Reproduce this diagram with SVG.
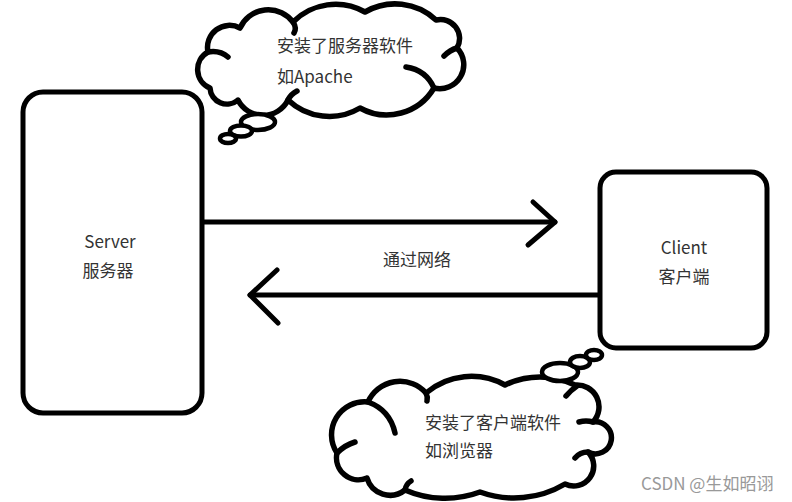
<svg xmlns="http://www.w3.org/2000/svg" width="792" height="502" viewBox="0 0 792 502">
<style>
.box{fill:#fff;stroke:#000;stroke-width:5}
.cloud{fill:#fff;stroke:#000;stroke-width:5.5;stroke-linejoin:round}
.hook{fill:none;stroke:#000;stroke-width:5.5;stroke-linecap:round}
.bub{fill:#fff;stroke:#000;stroke-width:4.5}
.ln{fill:none;stroke:#000;stroke-width:5;stroke-linecap:round;stroke-linejoin:round}
.t{font-family:"Noto Sans CJK SC","Noto Sans",sans-serif;font-size:17px;fill:#333}
.wm{font-family:"Noto Sans CJK SC","Noto Sans",sans-serif;font-size:17px;fill:#999}
</style>
<rect width="792" height="502" fill="#fff"/>
<g id="connectors">
  <path class="ln" d="M203,222 H555"/>
  <path class="ln" d="M533,202 L555,222 L528,245"/>
  <path class="ln" d="M600,295 H250"/>
  <path class="ln" d="M277,270 L250,295 L278,323"/>
  <text class="t" x="417" y="266" text-anchor="middle">通过网络</text>
</g>
<g id="server">
  <rect class="box" x="23" y="92" width="179" height="321" rx="20"/>
  <text class="t" x="110" y="248" text-anchor="middle">Server</text>
  <text class="t" x="108" y="277" text-anchor="middle">服务器</text>
</g>
<g id="client">
  <rect class="box" x="600" y="172" width="167" height="176" rx="16"/>
  <text class="t" x="684" y="254" text-anchor="middle">Client</text>
  <text class="t" x="684" y="283" text-anchor="middle">客户端</text>
</g>
<g id="cloud-server">
  <path class="cloud" d="M210,88 A20,20 0 0 1 208,52 A22,22 0 0 1 240,28 A31,31 0 0 1 293,22 A60,60 0 0 1 365,12 A60,60 0 0 1 436,20 A19,19 0 0 1 457,48 A24,24 0 0 1 434,88 A55,55 0 0 1 360,108 A60,60 0 0 1 288,100 A28,28 0 0 1 238,100 A17,17 0 0 1 210,88 Z"/>
  <path class="hook" d="M208,52 Q220,50 228,57"/>
  <path class="hook" d="M293,22 Q297,28 294,33"/>
  <path class="hook" d="M457,48 Q450,50 444,56"/>
  <path class="hook" d="M434,88 Q426,70 406,67"/>
  <path class="hook" d="M288,100 Q291,94 297,91"/>
  <ellipse class="bub" cx="258" cy="122" rx="17" ry="8"/>
  <ellipse class="bub" cx="241" cy="131" rx="11" ry="5.5"/>
  <ellipse class="bub" cx="228" cy="138.5" rx="8" ry="4.5"/>
  <text class="t" x="277" y="52">安装了服务器软件</text>
  <text class="t" x="277" y="83">如Apache</text>
</g>
<g id="cloud-client">
  <path class="cloud" d="M337,453 A33,33 0 0 1 368,402 A35,35 0 0 1 426,393 A70,70 0 0 1 505,385 A80,80 0 0 1 575,385 A22,22 0 0 1 593,422 A16,16 0 1 1 588,452 A20,20 0 0 1 565,484 A100,100 0 0 1 480,492 A100,100 0 0 1 405,490 A24,24 0 0 1 367,478 A22,22 0 0 1 337,453 Z"/>
  <path class="hook" d="M337,453 Q345,445 355,442"/>
  <path class="hook" d="M368,402 Q390,410 395,433"/>
  <path class="hook" d="M426,393 Q428,397 427,401"/>
  <path class="hook" d="M577,386 Q571,390 566,396"/>
  <path class="hook" d="M593,422 Q586,420 579,422"/>
  <path class="hook" d="M588,452 Q580,452 575,458"/>
  <path class="hook" d="M405,490 Q406,484 411,481"/>
  <ellipse class="bub" cx="560" cy="372" rx="18" ry="9"/>
  <ellipse class="bub" cx="580" cy="362" rx="10" ry="6"/>
  <ellipse class="bub" cx="594" cy="355" rx="8" ry="5"/>
  <text class="t" x="425" y="429">安装了客户端软件</text>
  <text class="t" x="425" y="457">如浏览器</text>
</g>
<text class="wm" x="641" y="490">CSDN @生如昭诩</text>
</svg>
